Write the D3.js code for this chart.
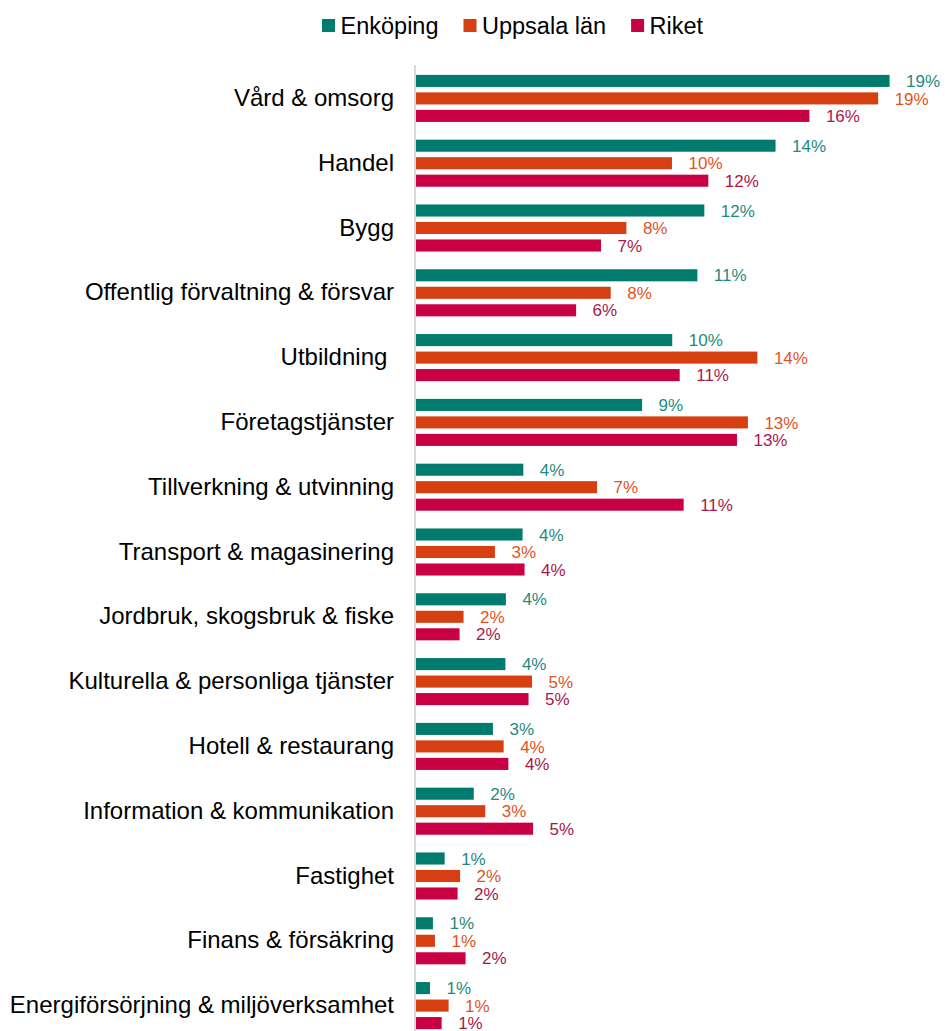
<!DOCTYPE html>
<html>
<head>
<meta charset="utf-8">
<script src="https://cdn.jsdelivr.net/npm/d3@7"></script>
<style>
  html, body { margin: 0; padding: 0; background: #ffffff; }
  svg { display: block; font-family: Arial, "Liberation Sans", sans-serif; }
</style>
</head>
<body>
<svg id="chart" width="945" height="1031"></svg>
<script>
const categories = [
  "Vård & omsorg",
  "Handel",
  "Bygg",
  "Offentlig förvaltning & försvar",
  "Utbildning ",
  "Företagstjänster",
  "Tillverkning & utvinning",
  "Transport & magasinering",
  "Jordbruk, skogsbruk & fiske",
  "Kulturella & personliga tjänster",
  "Hotell & restaurang",
  "Information & kommunikation",
  "Fastighet",
  "Finans & försäkring",
  "Energiförsörjning & miljöverksamhet"
];
const seriesNames = ["Enköping", "Uppsala län", "Riket"];
// values in percent
const enkoping  = [19.02, 14.44, 11.58, 11.30, 10.29, 9.08, 4.31, 4.28, 3.61, 3.59, 3.09, 2.32, 1.15, 0.68, 0.56];
const uppsala   = [18.56, 10.28, 8.45, 7.82, 13.71, 13.33, 7.27, 3.17, 1.91, 4.66, 3.52, 2.78, 1.77, 0.76, 1.31];
const riket     = [15.80, 11.74, 7.43, 6.43, 10.59, 12.89, 10.75, 4.36, 1.75, 4.52, 3.71, 4.70, 1.67, 1.99, 1.03];
const seriesValues = [enkoping, uppsala, riket];
const barColors   = ["#007B6E", "#D63F11", "#C90044"];
const labelColors = ["#1F8A7E", "#E0541F", "#A8174B"];

const svg = d3.select("#chart");
const x0 = 416;
const pxPerPct = 24.9;
const x = d3.scaleLinear().domain([0, 1]).range([x0, x0 + pxPerPct]);
const y = d3.scaleBand().domain(categories).range([66, 1038]).padding(0);
const y1 = d3.scaleBand().domain(seriesNames).range([-26.25, 26.25]).paddingInner(0.31).paddingOuter(0.155);

// axis line
svg.append("line")
  .attr("x1", x0 - 1).attr("x2", x0 - 1)
  .attr("y1", 65).attr("y2", 1031)
  .attr("stroke", "#D9D9D9").attr("stroke-width", 2);

// category labels
const yAxis = d3.axisLeft(y).tickSize(0).tickPadding(0);
const gAxis = svg.append("g").attr("transform", "translate(394,0)").call(yAxis);
gAxis.select(".domain").remove();
gAxis.selectAll("text")
  .attr("font-size", "24px")
  .attr("fill", "#000")
  .attr("font-family", "Arial, 'Liberation Sans', sans-serif")
  .style("white-space", "pre");

// bars
const groups = svg.append("g").selectAll("g")
  .data(categories)
  .join("g")
  .attr("transform", d => `translate(0,${y(d) + y.bandwidth() / 2})`);

seriesNames.forEach((s, si) => {
  groups.append("rect")
    .attr("x", x0)
    .attr("y", y1(s))
    .attr("height", y1.bandwidth())
    .attr("width", (d, i) => x(seriesValues[si][i]) - x0)
    .attr("fill", barColors[si]);
  groups.append("text")
    .attr("x", (d, i) => x(seriesValues[si][i]) + 16.5)
    .attr("y", y1(s) + y1.bandwidth() / 2)
    .attr("dy", "0.36em")
    .attr("font-size", "17px")
    .attr("fill", labelColors[si])
    .text((d, i) => Math.round(seriesValues[si][i]) + "%");
});

// legend
const legend = svg.append("g").attr("transform", "translate(322,0)");
let lx = 0;
seriesNames.forEach((s, si) => {
  const g = legend.append("g").attr("transform", `translate(${lx},0)`);
  g.append("rect").attr("x", 0).attr("y", 19).attr("width", 13).attr("height", 13).attr("fill", barColors[si]);
  const t = g.append("text").attr("x", 18.5).attr("y", 25.5).attr("dy", "0.36em")
    .attr("font-size", "23.5px").attr("fill", "#000").text(s);
  const w = t.node().getComputedTextLength();
  lx += 18.5 + w + 25;
});
</script>
</body>
</html>
